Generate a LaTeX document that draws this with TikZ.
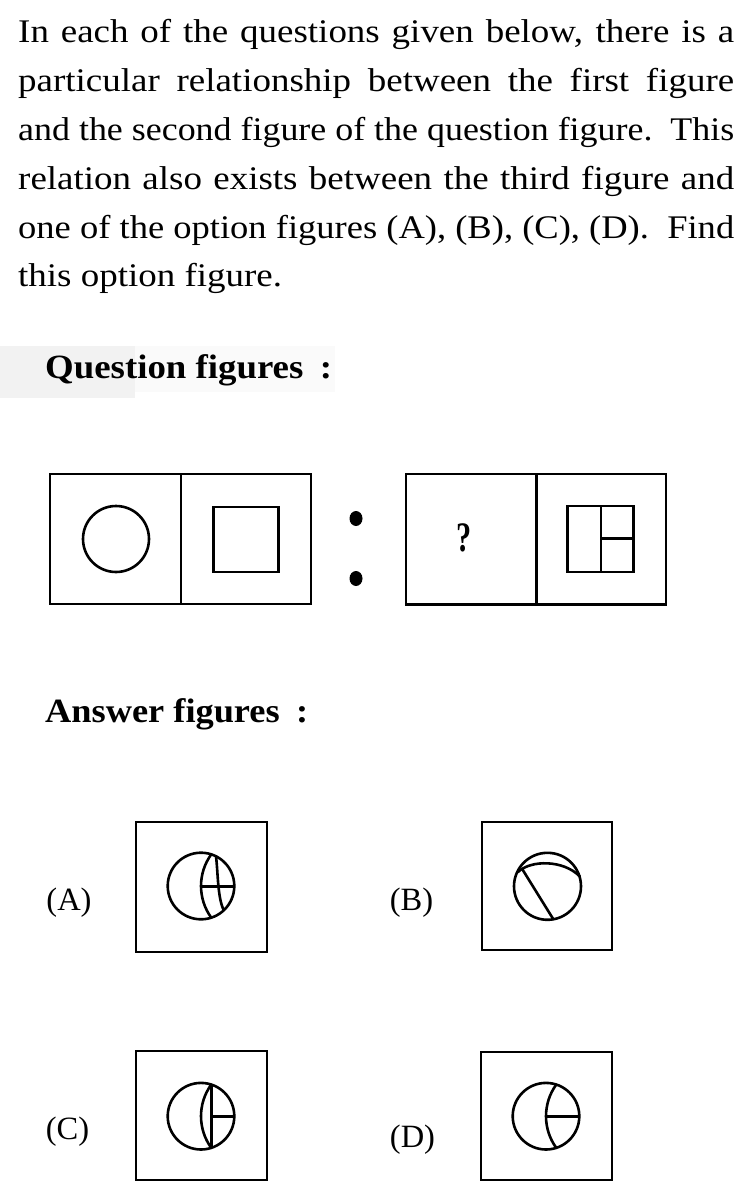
\documentclass[tikz,border=0pt]{standalone}
\usepackage{fontspec}
\setmainfont{Liberation Serif}
\newsavebox\linebox
\newcommand\jline[1]{\sbox\linebox{#1}\ifdim\wd\linebox<639pt\sbox\linebox{\makebox[639pt][s]{#1}}\fi\resizebox{716pt}{\height}{\usebox\linebox}}
\begin{document}
\begin{tikzpicture}[x=1pt,y=-1pt,
  fig/.style={line width=2.6pt, line join=miter},
  txt/.style={anchor=base west, inner sep=0pt, font=\fontsize{33}{40}\selectfont},
  head/.style={anchor=base west, inner sep=0pt, font=\fontsize{34}{40}\selectfont\bfseries},
  lab/.style={inner sep=0pt, font=\fontsize{32.5}{36}\selectfont}]
\useasboundingbox[fill=white] (0,0) rectangle (746,1202);
% faint scan patch behind heading
\fill[black!5] (0,346) rectangle (135,398);
\fill[black!2] (135,346) rectangle (335,392);
% instructions
\node[txt] (l1) at (18,42.7) {\jline{In each of the questions given below, there is a}};
\node[txt] (l2) at (18,91.5) {\jline{particular relationship between the first figure}};
\node[txt] (l3) at (18,140.3) {\jline{and the second figure of the question figure.\ \ This}};
\node[txt] (l4) at (18,189) {\jline{relation also exists between the third figure and}};
\node[txt] (l5) at (18,238) {\jline{one of the option figures (A), (B), (C), (D).\ \ Find}};
\node[txt] (l6) at (18,286.7) {\scalebox{1.12}[1]{this option figure.}};
% headings
\node[head] (qh) at (45,378) {\resizebox{287pt}{\height}{Question figures\hspace{0.2em} :}};
\node[head] (ah) at (45,722.7) {\resizebox{263pt}{\height}{Answer figures\hspace{0.2em} :}};
% question figures
\draw[fig] (50,474) rectangle (311,604);
\draw[fig] (181,474) -- (181,604);
\draw[fig] (116,539) circle[radius=33];
\draw[fig] (213.5,507) rectangle (278.5,572);
\fill (356,518.5) ellipse[x radius=6.5, y radius=7.5];
\fill (356,578.5) ellipse[x radius=6.5, y radius=7.5];
\draw[fig] (406,474) rectangle (666,604.5);
\draw[fig] (536.5,474) -- (536.5,604.5);
\node[inner sep=0pt, font=\fontsize{42}{44}\selectfont\bfseries] (qm) at (464.5,537.5) {\scalebox{0.72}[1]{?}};
\draw[fig] (567.5,506) rectangle (633.5,572);
\draw[fig] (601,506) -- (601,572);
\draw[fig] (601,538.5) -- (633.5,538.5);
% answer labels
\node[lab] (la) at (69,903) {(A)};
\node[lab] (lb) at (411.5,903) {(B)};
\node[lab] (lc) at (67.5,1131.5) {(C)};
\node[lab] (ld) at (412.5,1140) {(D)};
% answer boxes
\draw[fig] (136,822) rectangle (267,952);
\draw[fig] (482,822) rectangle (612,950);
\draw[fig] (136,1051) rectangle (267,1180);
\draw[fig] (481,1052) rectangle (612,1180);
% (A)
\begin{scope}[shift={(201,886)}]
\draw[fig] (0,0) circle[radius=33.3];
\draw[fig] (10.3,-31.7) .. controls (-3.42,-12.81) and (-3.42,12.81) .. (10.3,31.7);
\draw[fig] (15,-29.7) .. controls (17,-14) and (16.5,12) .. (22.8,24.2);
\draw[fig] (0,0.3) -- (33.3,0.3);
\end{scope}
% (B)
\begin{scope}[shift={(547.5,886.3)}]
\draw[fig] (0,0) circle[radius=33.5];
\draw[fig] (-29.8,-14) .. controls (-17,-26.7) and (16,-26.7) .. (32.5,-9.7) coordinate[pos=0.1] (bs);
\coordinate (be) at (5.8,32.9);
\draw[fig] (bs) -- (be);
\end{scope}
% (C)
\begin{scope}[shift={(201,1116.2)}]
\draw[fig] (0,0) circle[radius=33.3];
\draw[fig] (10.3,-31.7) .. controls (-3.42,-12.81) and (-3.42,12.81) .. (10.3,31.7);
\draw[fig] (10.3,-31.7) -- (10.3,31.7);
\draw[fig] (10.3,0.3) -- (33.3,0.3);
\end{scope}
% (D)
\begin{scope}[shift={(546,1116.2)}]
\draw[fig] (0,0) circle[radius=33.3];
\draw[fig] (10.3,-31.7) .. controls (-3.42,-12.81) and (-3.42,12.81) .. (10.3,31.7);
\draw[fig] (0,0.3) -- (33.3,0.3);
\end{scope}
\end{tikzpicture}
\end{document}
